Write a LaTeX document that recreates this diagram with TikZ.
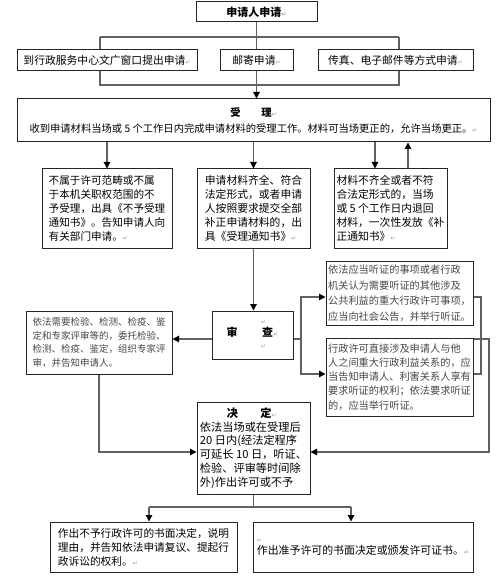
\documentclass[tikz,border=0pt]{standalone}
\usepackage{fontspec}
\setmainfont{Noto Sans CJK SC}
\newfontfamily\dejavu{DejaVu Sans}
\usetikzlibrary{arrows.meta}
\newcommand\parmark{{\color{black!40}\dejavu\fontsize{6}{6}\selectfont ↵}}
\newcommand\fsz[2]{\fontsize{#1}{#2}\selectfont}
\tikzset{
  box/.style={draw=black!85, line width=1pt, inner sep=0pt, align=left, fill=white, text=black},
  sz/.style 2 args={minimum width=#1pt, minimum height=#2pt},
  conn/.style={draw=black!62, line width=1.2pt},
  arr/.style={conn, -{Triangle[length=6.5pt,width=6.5pt,color=black]}},
  graytext/.style={text=black!72}
}
\begin{document}
\begin{tikzpicture}[x=1pt,y=-1pt]
\useasboundingbox (0,0) rectangle (500,585);
\fill[white] (0,0) rectangle (500,585);

% boxes
\node[box, sz={121}{20}, font=\bfseries\fsz{11}{13}] (top) at (256.5,12) {申请人申请\parmark};
\node[box, sz={180}{21}, font=\fsz{10.8}{13}] (r2a) at (107,60.5) {到行政服务中心文广窗口提出申请\parmark};
\node[box, sz={73}{21}, font=\fsz{10.8}{13}] (r2b) at (256.5,60.5) {邮寄申请\parmark};
\node[box, sz={155}{21}, font=\fsz{10.8}{13}] (r2c) at (395.5,60.5) {传真、电子邮件等方式申请\parmark};

\node[box, sz={473}{43}, align=center, font=\fsz{10.3}{16}] (accept) at (253.5,120.5)
  {\textbf{受　　理}\parmark\\收到申请材料当场或 5 个工作日内完成申请材料的受理工作。材料可当场更正的，允许当场更正。\parmark};

\node[box, sz={130}{79}, font=\fsz{10.6}{13.9}] (A) at (107,208.5)
  {不属于许可范畴或不属\\于本机关职权范围的不\\予受理，出具《不予受理\\通知书》。告知申请人向\\有关部门申请。\parmark};
\node[box, sz={113}{79}, font=\fsz{10.8}{13.9}] (B) at (253.5,208.5)
  {申请材料齐全、符合\\法定形式，或者申请\\人按照要求提交全部\\补正申请材料的，出\\具《受理通知书》\parmark};
\node[box, sz={113}{79}, font=\fsz{10.8}{13.9}] (C) at (390.5,208.5)
  {材料不齐全或者不符\\合法定形式的，当场\\或 5 个工作日内退回\\材料，一次性发放《补\\正通知书》\parmark};

\node[box, sz={81}{48}, align=center, font=\fsz{11}{12}] (review) at (252.5,335)
  {\hspace*{2em}\parmark\\\textbf{审　　 查}\parmark\\\hspace*{2em}\parmark};
\node[box, sz={146}{63}, graytext, font=\fsz{9.5}{13.7}] (D) at (99,342.5)
  {依法需要检验、检测、检疫、鉴\\定和专家评审等的，委托检验、\\检测、检疫、鉴定，组织专家评\\审，并告知申请人。};
\node[box, sz={147}{64}, graytext, font=\fsz{10.2}{15.5}] (E) at (399.5,293)
  {依法应当听证的事项或者行政\\机关认为需要听证的其他涉及\\公共利益的重大行政许可事项，\\应当向社会公告，并举行听证。};
\node[box, sz={147}{78}, graytext, font=\fsz{10.2}{14.2}] (F) at (399.5,377)
  {行政许可直接涉及申请人与他\\人之间重大行政利益关系的，应\\当告知申请人、利害关系人享有\\要求听证的权利；依法要求听证\\的，应当举行听证。};

\node[box, sz={113}{92}, font=\fsz{11.2}{13.7}] (decide) at (253.5,448)
  {\hspace*{2.4em}\textbf{决　　定}\parmark\\依法当场或在受理后\\20 日内(经法定程序\\可延长 10 日，听证、\\检验、评审等时间除\\外)作出许可或不予};

\node[box, sz={187}{50}, font=\fsz{10.7}{14}] (G) at (143.5,547)
  {作出不予行政许可的书面决定，说明\\理由，并告知依法申请复议、提起行\\政诉讼的权利。\parmark};
\node[box, sz={220}{50}, font=\fsz{10.9}{12}] (H) at (363,547)
  {\parmark\\作出准予许可的书面决定或颁发许可证书。\parmark};

% junction coordinates
\coordinate (jL) at (100,37);
\coordinate (jR) at (399,37);
\coordinate (kL) at (100,85);
\coordinate (kR) at (399,85);
\coordinate (cdown) at (375,0);
\coordinate (cup) at (408,0);
\coordinate (ry) at (0,339);
\coordinate (ra) at (301,339);
\coordinate (ey) at (0,297);
\coordinate (fy) at (0,374);
\coordinate (ec) at (481,374);
\coordinate (fy2) at (0,339);
\coordinate (fc) at (489,452);
\coordinate (dc) at (99,452);
\coordinate (gL) at (149,507);
\coordinate (gR) at (351,507);

% connectors
\draw[conn] (top.south) -- (top.south |- r2b.north);
\draw[conn] (jL) -- (jR);
\draw[conn] (jL) -- (jL |- r2a.north);
\draw[conn] (jR) -- (jR |- r2c.north);
\draw[conn] (jL |- r2a.south) -- (kL) -- (kR) -- (jR |- r2c.south);
\draw[arr] (r2b.south) -- (r2b.south |- accept.north);

\draw[arr] (A.north |- accept.south) -- (A.north);
\draw[arr] (B.north |- accept.south) -- (B.north);
\draw[arr] (accept.south -| cdown) -- (C.north -| cdown);
\draw[arr] (C.north -| cup) -- (accept.south -| cup);

\draw[arr] (B.south) -- (B.south |- review.north);
\draw[arr] (review.west |- ry) -- (D.east |- ry);
\draw[conn] (review.east |- ry) -- (ra);
\draw[arr] (ra) |- (E.west |- ey);
\draw[arr] (ra) |- (F.west |- fy);
\draw[conn] (E.east |- ey) -| (ec) -- (F.east |- fy);
\draw[arr] (F.east |- fy2) -| (fc) -- (decide.east |- fc);
\draw[arr] (D.south) -- (dc) -- (decide.west |- dc);

\draw[conn] (decide.south) -- (decide.south |- gL);
\draw[conn] (gL) -- (gR);
\draw[arr] (gL) -- (gL |- G.north);
\draw[arr] (gR) -- (gR |- H.north);
\end{tikzpicture}
\end{document}
